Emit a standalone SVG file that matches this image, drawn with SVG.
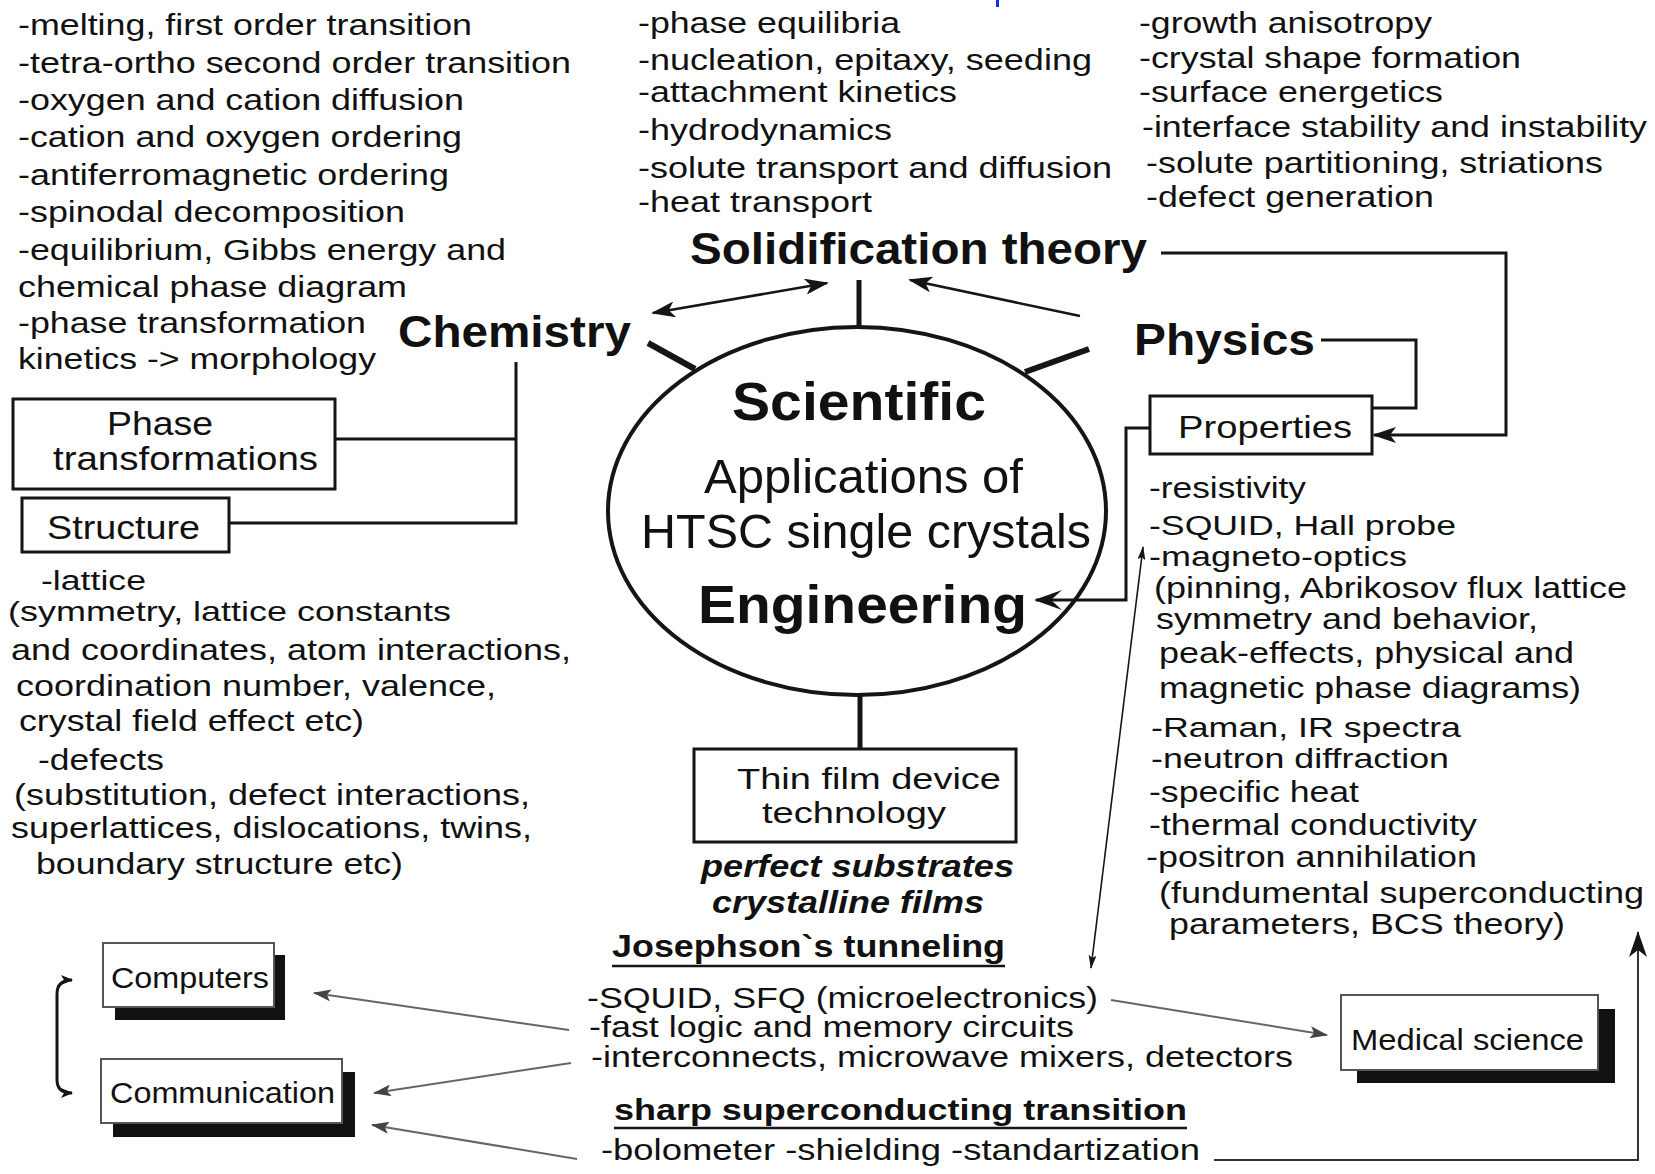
<svg xmlns="http://www.w3.org/2000/svg" width="1655" height="1174" viewBox="0 0 1655 1174">
<style>
text{font-family:"Liberation Sans",Arial,sans-serif;fill:#111}
.l{font-size:30px}
.h{font-size:44px;font-weight:bold}
.c1{font-size:53px;font-weight:bold}
.c2{font-size:49px}
.bx{font-size:34px}
.bi{font-size:31px;font-weight:bold;font-style:italic}
.u{font-size:31px;font-weight:bold}
.s{font-size:29px}
.n{font-size:29px}
.ln{stroke:#151515;fill:none;stroke-width:3}
.tk{stroke:#151515;fill:none;stroke-width:6}
.th{stroke:#151515;fill:none;stroke-width:1.6}
.gr{stroke:#666;fill:none;stroke-width:2}
.box{fill:#fff;stroke:#151515;stroke-width:3}
.sbox{fill:#fff;stroke:#555;stroke-width:2}
.shadow{fill:#111}
</style>
<defs>
<marker id="ah" viewBox="0 0 24 16" refX="22" refY="8" markerWidth="24" markerHeight="16" markerUnits="userSpaceOnUse" orient="auto-start-reverse"><path d="M0,0 L24,8 L0,16 L6,8 z" fill="#151515"/></marker>
<marker id="ahe" viewBox="0 0 28 20" refX="26" refY="10" markerWidth="28" markerHeight="20" markerUnits="userSpaceOnUse" orient="auto"><path d="M0,0 L28,10 L0,20 L11,10 z" fill="#151515"/></marker>
<marker id="aht" viewBox="0 0 14 8" refX="13" refY="4" markerWidth="14" markerHeight="8" markerUnits="userSpaceOnUse" orient="auto-start-reverse"><path d="M0,0 L14,4 L0,8 L3,4 z" fill="#151515"/></marker>
<marker id="ahg" viewBox="0 0 18 12" refX="17" refY="6" markerWidth="18" markerHeight="12" markerUnits="userSpaceOnUse" orient="auto"><path d="M0,0 L18,6 L0,12 L4,6 z" fill="#444"/></marker>
<marker id="ahb" viewBox="0 0 12 10" refX="11" refY="5" markerWidth="12" markerHeight="10" markerUnits="userSpaceOnUse" orient="auto-start-reverse"><path d="M0,0 L12,5 L0,10 L3,5 z" fill="#151515"/></marker>
<marker id="ahu" viewBox="0 0 26 18" refX="25" refY="9" markerWidth="26" markerHeight="18" markerUnits="userSpaceOnUse" orient="auto"><path d="M0,0 L26,9 L0,18 L7,9 z" fill="#151515"/></marker>
</defs>
<rect width="1655" height="1174" fill="#fff"/>
<rect x="996" y="0" width="3" height="7" fill="#1a2cff"/>

<g id="connectors">
<line class="ln" x1="859" y1="280" x2="859" y2="328" style="stroke-width:5"/>
<line class="tk" x1="648" y1="343" x2="695" y2="369"/>
<line class="tk" x1="1025" y1="372" x2="1089" y2="349"/>
<line class="ln" x1="860" y1="695" x2="860" y2="749" style="stroke-width:5"/>
<line class="ln" x1="653" y1="313" x2="827" y2="283" style="stroke-width:2.5" marker-start="url(#ah)" marker-end="url(#ah)"/>
<line class="ln" x1="1080" y1="316" x2="910" y2="280" style="stroke-width:2.5" marker-end="url(#ah)"/>
<polyline class="ln" points="1161,253 1506,253 1506,435 1374,435" marker-end="url(#ah)"/>
<polyline class="ln" points="1321,340 1416,340 1416,408 1373,408"/>
<polyline class="ln" points="1150,428 1126,428 1126,600 1036,600" marker-end="url(#ahe)"/>
<line class="th" x1="1143" y1="547" x2="1091" y2="968" marker-start="url(#aht)" marker-end="url(#aht)"/>
<polyline class="ln" points="516,362 516,523 229,523"/>
<line class="ln" x1="335" y1="439" x2="516" y2="439"/>
<line class="gr" x1="569" y1="1030" x2="314" y2="993" marker-end="url(#ahg)"/>
<line class="gr" x1="571" y1="1063" x2="374" y2="1093" marker-end="url(#ahg)"/>
<line class="gr" x1="577" y1="1159" x2="372" y2="1125" marker-end="url(#ahg)"/>
<line class="gr" x1="1111" y1="1000" x2="1327" y2="1035" marker-end="url(#ahg)"/>
<path class="ln" d="M72,980 Q57,980 57,994 L57,1080 Q57,1093 72,1093" marker-start="url(#ahb)" marker-end="url(#ahb)"/>
<polyline class="gr" points="1214,1160 1638,1160 1638,932" style="stroke:#333" marker-end="url(#ahu)"/>
</g>

<g id="center">
<ellipse cx="857" cy="511" rx="249" ry="184" fill="none" stroke="#151515" stroke-width="4"/>
<text class="c1" x="732" y="420" textLength="254" lengthAdjust="spacingAndGlyphs">Scientific</text>
<text class="c2" x="704" y="493" textLength="319" lengthAdjust="spacingAndGlyphs">Applications of</text>
<text class="c2" x="641" y="548" textLength="450" lengthAdjust="spacingAndGlyphs">HTSC single crystals</text>
<text class="c1" x="698" y="623" textLength="329" lengthAdjust="spacingAndGlyphs">Engineering</text>
</g>

<g id="chemistry">
<text class="h" x="398" y="347" textLength="233" lengthAdjust="spacingAndGlyphs">Chemistry</text>
<text class="l" x="18" y="35" textLength="454" lengthAdjust="spacingAndGlyphs">-melting, first order transition</text>
<text class="l" x="18" y="73" textLength="553" lengthAdjust="spacingAndGlyphs">-tetra-ortho second order transition</text>
<text class="l" x="18" y="110" textLength="446" lengthAdjust="spacingAndGlyphs">-oxygen and cation diffusion</text>
<text class="l" x="18" y="147" textLength="444" lengthAdjust="spacingAndGlyphs">-cation and oxygen ordering</text>
<text class="l" x="18" y="185" textLength="431" lengthAdjust="spacingAndGlyphs">-antiferromagnetic ordering</text>
<text class="l" x="18" y="222" textLength="387" lengthAdjust="spacingAndGlyphs">-spinodal decomposition</text>
<text class="l" x="18" y="260" textLength="488" lengthAdjust="spacingAndGlyphs">-equilibrium, Gibbs energy and</text>
<text class="l" x="18" y="297" textLength="389" lengthAdjust="spacingAndGlyphs">chemical phase diagram</text>
<text class="l" x="18" y="333" textLength="348" lengthAdjust="spacingAndGlyphs">-phase transformation</text>
<text class="l" x="18" y="369" textLength="358" lengthAdjust="spacingAndGlyphs">kinetics -&gt; morphology</text>
</g>

<g id="solidification">
<text class="h" x="690" y="264" textLength="457" lengthAdjust="spacingAndGlyphs">Solidification theory</text>
<text class="l" x="638" y="33" textLength="262" lengthAdjust="spacingAndGlyphs">-phase equilibria</text>
<text class="l" x="638" y="70" textLength="454" lengthAdjust="spacingAndGlyphs">-nucleation, epitaxy, seeding</text>
<text class="l" x="638" y="102" textLength="319" lengthAdjust="spacingAndGlyphs">-attachment kinetics</text>
<text class="l" x="638" y="140" textLength="254" lengthAdjust="spacingAndGlyphs">-hydrodynamics</text>
<text class="l" x="638" y="178" textLength="474" lengthAdjust="spacingAndGlyphs">-solute transport and diffusion</text>
<text class="l" x="638" y="212" textLength="234" lengthAdjust="spacingAndGlyphs">-heat transport</text>
</g>

<g id="growth">
<text class="l" x="1139" y="33" textLength="293" lengthAdjust="spacingAndGlyphs">-growth anisotropy</text>
<text class="l" x="1139" y="68" textLength="382" lengthAdjust="spacingAndGlyphs">-crystal shape formation</text>
<text class="l" x="1139" y="102" textLength="304" lengthAdjust="spacingAndGlyphs">-surface energetics</text>
<text class="l" x="1142" y="137" textLength="505" lengthAdjust="spacingAndGlyphs">-interface stability and instability</text>
<text class="l" x="1146" y="173" textLength="457" lengthAdjust="spacingAndGlyphs">-solute partitioning, striations</text>
<text class="l" x="1146" y="207" textLength="288" lengthAdjust="spacingAndGlyphs">-defect generation</text>
</g>

<g id="physics">
<text class="h" x="1134" y="355" textLength="181" lengthAdjust="spacingAndGlyphs">Physics</text>
</g>

<g id="properties">
<rect class="box" x="1150" y="396" width="222" height="58"/>
<text class="bx" x="1178" y="438" textLength="174" lengthAdjust="spacingAndGlyphs" style="font-size:32px">Properties</text>
</g>

<g id="properties-list">
<text class="l" x="1149" y="498" textLength="157" lengthAdjust="spacingAndGlyphs">-resistivity</text>
<text class="l" x="1149" y="535" textLength="307" lengthAdjust="spacingAndGlyphs" style="font-size:27px">-SQUID, Hall probe</text>
<text class="l" x="1149" y="566" textLength="258" lengthAdjust="spacingAndGlyphs" style="font-size:27px">-magneto-optics</text>
<text class="l" x="1154" y="598" textLength="473" lengthAdjust="spacingAndGlyphs">(pinning, Abrikosov flux lattice</text>
<text class="l" x="1156" y="629" textLength="382" lengthAdjust="spacingAndGlyphs">symmetry and behavior,</text>
<text class="l" x="1159" y="663" textLength="415" lengthAdjust="spacingAndGlyphs">peak-effects, physical and</text>
<text class="l" x="1159" y="698" textLength="422" lengthAdjust="spacingAndGlyphs">magnetic phase diagrams)</text>
<text class="l" x="1151" y="737" textLength="310" lengthAdjust="spacingAndGlyphs" style="font-size:28px">-Raman, IR spectra</text>
<text class="l" x="1151" y="768" textLength="298" lengthAdjust="spacingAndGlyphs" style="font-size:28px">-neutron diffraction</text>
<text class="l" x="1149" y="802" textLength="210" lengthAdjust="spacingAndGlyphs">-specific heat</text>
<text class="l" x="1149" y="835" textLength="328" lengthAdjust="spacingAndGlyphs">-thermal conductivity</text>
<text class="l" x="1146" y="867" textLength="331" lengthAdjust="spacingAndGlyphs">-positron annihilation</text>
<text class="l" x="1159" y="903" textLength="485" lengthAdjust="spacingAndGlyphs">(fundumental superconducting</text>
<text class="l" x="1169" y="934" textLength="396" lengthAdjust="spacingAndGlyphs">parameters, BCS theory)</text>
</g>

<g id="phase-transformations">
<rect class="box" x="13" y="399" width="322" height="90"/>
<text class="bx" x="107" y="435" textLength="106" lengthAdjust="spacingAndGlyphs">Phase</text>
<text class="bx" x="53" y="470" textLength="265" lengthAdjust="spacingAndGlyphs">transformations</text>
</g>

<g id="structure">
<rect class="box" x="22" y="498" width="207" height="54"/>
<text class="bx" x="47" y="539" textLength="153" lengthAdjust="spacingAndGlyphs">Structure</text>
</g>

<g id="structure-list">
<text class="l" x="41" y="590" textLength="105" lengthAdjust="spacingAndGlyphs" style="font-size:27px">-lattice</text>
<text class="l" x="8" y="621" textLength="443" lengthAdjust="spacingAndGlyphs" style="font-size:28px">(symmetry, lattice constants</text>
<text class="l" x="11" y="660" textLength="560" lengthAdjust="spacingAndGlyphs">and coordinates, atom interactions,</text>
<text class="l" x="16" y="696" textLength="480" lengthAdjust="spacingAndGlyphs">coordination number, valence,</text>
<text class="l" x="19" y="731" textLength="345" lengthAdjust="spacingAndGlyphs">crystal field effect etc)</text>
<text class="l" x="38" y="770" textLength="126" lengthAdjust="spacingAndGlyphs">-defects</text>
<text class="l" x="14" y="805" textLength="516" lengthAdjust="spacingAndGlyphs">(substitution, defect interactions,</text>
<text class="l" x="11" y="838" textLength="521" lengthAdjust="spacingAndGlyphs">superlattices, dislocations, twins,</text>
<text class="l" x="36" y="874" textLength="367" lengthAdjust="spacingAndGlyphs">boundary structure etc)</text>
</g>

<g id="thin-film">
<rect class="box" x="694" y="749" width="322" height="93"/>
<text class="bx" x="737" y="789" textLength="264" lengthAdjust="spacingAndGlyphs" style="font-size:30px">Thin film device</text>
<text class="bx" x="762" y="823" textLength="184" lengthAdjust="spacingAndGlyphs" style="font-size:30px">technology</text>
</g>

<g id="thin-film-notes">
<text class="bi" x="701" y="877" textLength="313" lengthAdjust="spacingAndGlyphs">perfect substrates</text>
<text class="bi" x="712" y="913" textLength="272" lengthAdjust="spacingAndGlyphs">crystalline films</text>
</g>

<g id="josephson">
<text class="u" x="612" y="957" textLength="393" lengthAdjust="spacingAndGlyphs">Josephson`s tunneling</text>
<line x1="612" y1="966" x2="1005" y2="966" stroke="#151515" stroke-width="2.5"/>
<text class="s" x="587" y="1008" textLength="511" lengthAdjust="spacingAndGlyphs">-SQUID, SFQ (microelectronics)</text>
<text class="s" x="589" y="1037" textLength="485" lengthAdjust="spacingAndGlyphs">-fast logic and memory circuits</text>
<text class="s" x="591" y="1067" textLength="702" lengthAdjust="spacingAndGlyphs">-interconnects, microwave mixers, detectors</text>
</g>

<g id="sharp-transition">
<text class="u" x="614" y="1120" textLength="573" lengthAdjust="spacingAndGlyphs" style="font-size:30px">sharp superconducting transition</text>
<line x1="614" y1="1128" x2="1187" y2="1128" stroke="#151515" stroke-width="2.5"/>
<text class="s" x="601" y="1160" textLength="599" lengthAdjust="spacingAndGlyphs">-bolometer -shielding  -standartization</text>
</g>

<g id="computers">
<rect class="shadow" x="115" y="955" width="170" height="65"/>
<rect class="sbox" x="103" y="943" width="171" height="64"/>
<text class="n" x="111" y="988" textLength="158" lengthAdjust="spacingAndGlyphs">Computers</text>
</g>

<g id="communication">
<rect class="shadow" x="113" y="1072" width="242" height="65"/>
<rect class="sbox" x="101" y="1059" width="241" height="64"/>
<text class="n" x="110" y="1103" textLength="225" lengthAdjust="spacingAndGlyphs">Communication</text>
</g>

<g id="medical-science">
<rect class="shadow" x="1357" y="1009" width="258" height="74"/>
<rect class="sbox" x="1341" y="995" width="257" height="75"/>
<text class="n" x="1351" y="1050" textLength="233" lengthAdjust="spacingAndGlyphs">Medical science</text>
</g>
</svg>
